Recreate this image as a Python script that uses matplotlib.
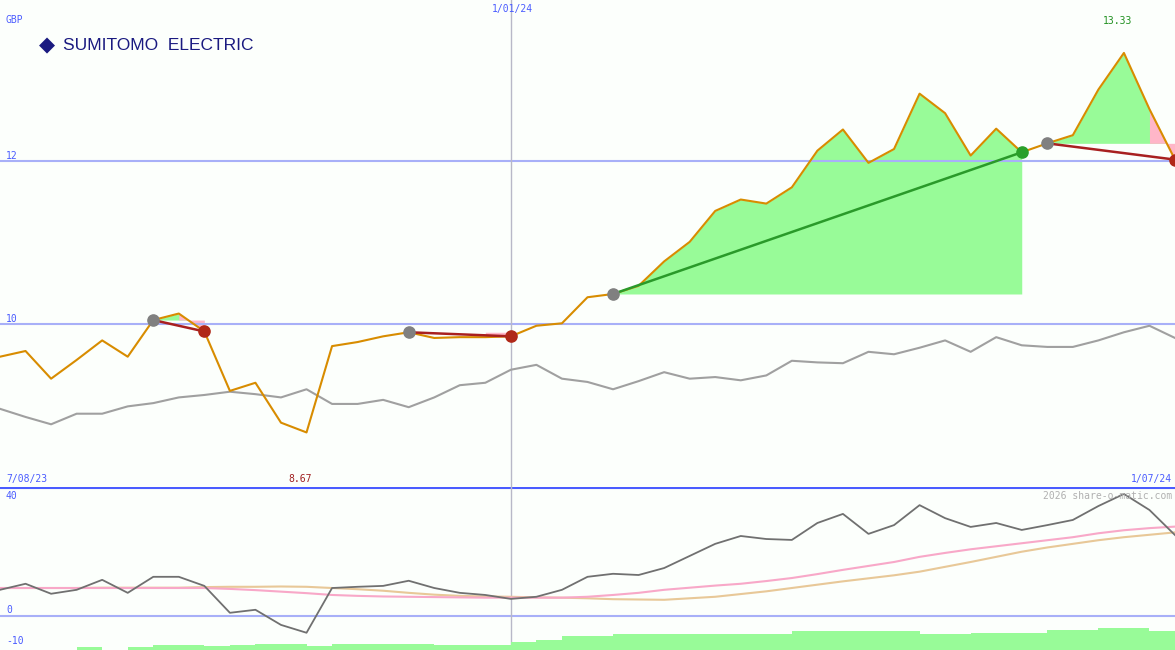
import matplotlib
matplotlib.use("Agg")
from matplotlib import pyplot as plt
import numpy as np

price = [9.60, 9.67, 9.33, 9.56, 9.80, 9.60, 10.05, 10.13, 9.91, 9.18, 9.28, 8.79, 8.67,
         9.73, 9.78, 9.85, 9.90, 9.83, 9.84, 9.84, 9.85, 9.98, 10.01, 10.33, 10.37, 10.47,
         10.77, 11.01, 11.39, 11.53, 11.48, 11.68, 12.13, 12.39, 11.98, 12.15, 12.83, 12.59,
         12.07, 12.40, 12.11, 12.22, 12.32, 12.88, 13.33, 12.64, 12.02]
index_line = [8.96, 8.86, 8.77, 8.90, 8.90, 8.99, 9.03, 9.10, 9.13, 9.17, 9.14, 9.10, 9.20,
              9.02, 9.02, 9.07, 8.98, 9.10, 9.25, 9.28, 9.44, 9.50, 9.33, 9.29, 9.20, 9.30,
              9.41, 9.33, 9.35, 9.31, 9.37, 9.55, 9.53, 9.52, 9.66, 9.63, 9.71, 9.80, 9.66,
              9.84, 9.74, 9.72, 9.72, 9.80, 9.90, 9.98, 9.83]
osc = [8.6, 10.6, 7.3, 8.6, 11.9, 7.6, 12.9, 12.9, 9.9, 1.0, 2.0, -3.0, -5.6, 9.2, 9.6, 9.9,
       11.6, 9.2, 7.6, 6.9, 5.6, 6.3, 8.6, 12.9, 13.9, 13.5, 15.8, 19.8, 23.8, 26.4, 25.4,
       25.1, 30.7, 33.7, 27.1, 30.0, 36.6, 32.3, 29.4, 30.7, 28.4, 30.0, 31.7, 36.3, 40.3,
       35.0, 26.7]
osc_fast = [9.2, 9.2, 9.2, 9.2, 9.2, 9.2, 9.2, 9.2, 9.2, 8.9, 8.5, 8.0, 7.5, 6.9, 6.6, 6.4,
            6.3, 6.2, 6.1, 6.0, 6.0, 6.0, 6.0, 6.3, 6.9, 7.6, 8.6, 9.3, 10.0, 10.6, 11.5,
            12.5, 13.8, 15.2, 16.5, 17.8, 19.5, 20.8, 22.0, 23.0, 24.0, 25.0, 26.0, 27.3,
            28.3, 29.0, 29.5]
osc_slow = [9.2, 9.2, 9.2, 9.2, 9.3, 9.3, 9.3, 9.3, 9.5, 9.6, 9.6, 9.7, 9.6, 9.2, 8.8, 8.3,
            7.6, 7.0, 6.6, 6.4, 6.3, 6.1, 6.0, 5.8, 5.5, 5.4, 5.3, 5.8, 6.3, 7.2, 8.1, 9.2,
            10.3, 11.4, 12.4, 13.4, 14.6, 16.2, 17.8, 19.5, 21.2, 22.6, 23.8, 25.0, 26.0,
            26.8, 27.6]
volume = [0, 0, 0, 3, 0, 3, 5, 5, 4, 5, 6, 6, 4, 6, 6, 6, 6, 5, 5, 5, 8, 10, 14, 14, 16, 16,
          16, 16, 16, 16, 16, 19, 19, 19, 19, 19, 16, 16, 17, 17, 17, 20, 20, 22, 22, 19]
# trades: (start index, end index)
trades = [(6, 8), (16, 20), (24, 40), (41, 46)]

x = np.arange(len(price))
W, H = 1175, 650
fig = plt.figure(figsize=(W / 100, H / 100), dpi=100)
fig.patch.set_facecolor("#fcfffc")
mono = "DejaVu Sans Mono"
blue = "#4a5cff"
grid = "#a8b0f8"

ax = fig.add_axes([0, (H - 487) / H, 1, 487 / H])
ax.set_xlim(0, 46)
ax.set_ylim(8.0, 13.98)
ax.set_facecolor("#fcfffc")
ax.axis("off")
for lv in [10, 12]:
    ax.axhline(lv, color=grid, lw=1.5)
ax.axvline(20, color="#b8b8c8", lw=1)

for s, e in trades:
    lvl = price[s]
    xs = x[s:e + 1]
    ps = np.array(price[s:e + 1])
    ax.fill_between(xs, ps, lvl, where=ps >= lvl, interpolate=True, color="#98fb98", lw=0)
    if price[e] < lvl:
        ax.fill_between(xs[-2:], ps[-2:], lvl, where=ps[-2:] <= lvl + 1, interpolate=True,
                        color="#ffb6c8", lw=0)
    win = price[e] > lvl
    c = "#2a9a2a" if win else "#a82020"
    ax.plot([s, e], [lvl, price[e]], color=c, lw=1.8, zorder=4)
    ax.scatter([s], [lvl], s=65, color="#808080", zorder=5)
    ax.scatter([e], [price[e]], s=65, color="#2aa02a" if win else "#b02818", zorder=5)

ax.plot(x, index_line, color="#a0a0a0", lw=1.5)
ax.plot(x, price, color="#d88c00", lw=1.5, zorder=3)

ax2 = fig.add_axes([0, 0, 1, 163 / H])
ax2.set_xlim(0, 46)
ax2.set_ylim(-11.3, 42.6)
ax2.axis("off")
ax2.axhline(0, color=grid, lw=1.5)
ax2.axhline(42.4, color=blue, lw=1.5)
ax2.axvline(20, color="#b8b8c8", lw=1)
axv = ax2.twinx()
axv.set_ylim(0, 163)
axv.axis("off")
axv.bar(x[:-1], volume, width=1, align="edge", color="#98fb98", lw=0)
ax2.plot(x, osc_slow, color="#e8c898", lw=1.5)
ax2.plot(x, osc_fast, color="#f8a8c8", lw=1.5)
ax2.plot(x, osc, color="#707070", lw=1.3)

def t(px, py, s, c=blue, ha="left", **kw):
    fig.text(px / W, 1 - py / H, s, color=c, ha=ha, va="center", family=mono, fontsize=7, **kw)

t(6, 20, "GBP")
t(512, 9, "1/01/24", ha="center")
t(1118, 21, "13.33", c="#209020", ha="center")
t(6, 156, "12")
t(6, 319, "10")
t(6, 479, "7/08/23")
t(300, 479, "8.67", c="#a02020", ha="center")
t(1172, 479, "1/07/24", ha="right")
t(6, 496, "40")
t(6, 610, "0")
t(6, 641, "-10")
t(1172, 496, "2026 share-o-matic.com", c="#b0b0b0", ha="right")
fig.text(47 / W, 1 - 45 / H, "\u25c6", color="#1a1a80", fontsize=15, ha="center", va="center")
fig.text(63 / W, 1 - 45 / H, "SUMITOMO  ELECTRIC", color="#1a1a80", fontsize=12.5,
         family="Liberation Sans", ha="left", va="center")

fig.savefig("out.png", dpi=100, facecolor=fig.get_facecolor())
